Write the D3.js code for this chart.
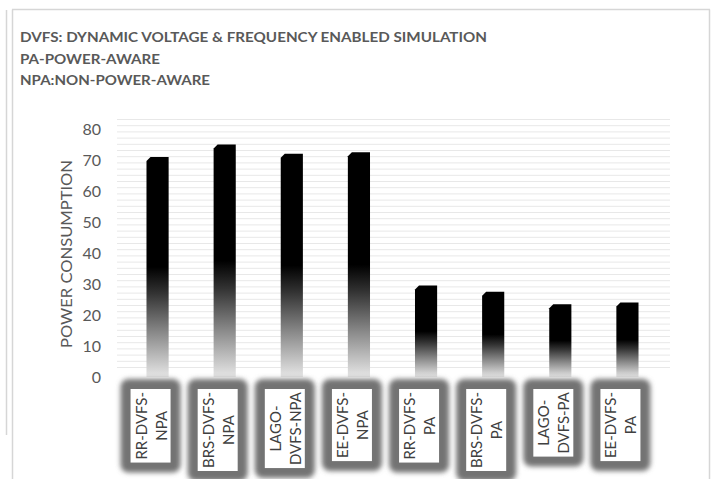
<!DOCTYPE html>
<html>
<head>
<meta charset="utf-8">
<script src="https://cdn.jsdelivr.net/npm/d3@7"></script>
<style>
  html, body { margin: 0; padding: 0; background: #fff; }
  svg { display: block; }
  text { font-family: Lato, "Open Sans", sans-serif; }
</style>
</head>
<body>
<svg id="chart" width="714" height="479"></svg>
<script>
// Power consumption per scheduling policy
const categories = [
  "RR-DVFS-NPA", "BRS-DVFS-NPA", "LAGO-DVFS-NPA", "EE-DVFS-NPA",
  "RR-DVFS-PA", "BRS-DVFS-PA", "LAGO-DVFS-PA", "EE-DVFS-PA"
];
const powerValues = [71, 75, 72, 72.5, 29.5, 27.5, 23.5, 24];
const yTicks = [0, 10, 20, 30, 40, 50, 60, 70, 80];
const titleLines = [
  "DVFS: DYNAMIC VOLTAGE & FREQUENCY ENABLED SIMULATION",
  "PA-POWER-AWARE",
  "NPA:NON-POWER-AWARE"
];
const yAxisTitle = "POWER CONSUMPTION";

const svg = d3.select("#chart");
const W = 714, H = 479;

// frame lines
const frame = svg.append("g").attr("stroke", "#d6d6d6").attr("stroke-width", 1.5).attr("fill", "none");
frame.append("line").attr("x1", 12).attr("y1", 9.5).attr("x2", 710).attr("y2", 9.5);
frame.append("line").attr("x1", 709.5).attr("y1", 9.5).attr("x2", 709.5).attr("y2", H);
frame.append("line").attr("x1", 12.5).attr("y1", 9.5).attr("x2", 12.5).attr("y2", H);
frame.append("line").attr("x1", 6.5).attr("y1", 10).attr("x2", 6.5).attr("y2", 435);

// title block
const titleWidths = [467, 140, 190];
svg.append("g").selectAll("text").data(titleLines).join("text")
  .attr("x", 20)
  .attr("y", (d, i) => 42 + i * 21.5)
  .attr("fill", "#595959")
  .attr("font-size", 14)
  .attr("font-weight", "bold")
  .attr("textLength", (d, i) => titleWidths[i])
  .attr("lengthAdjust", "spacingAndGlyphs")
  .text(d => d);

// scales
const x = d3.scaleBand().domain(categories).range([124, 661])
  .paddingInner(0.67).paddingOuter(0.335);
const y = d3.scaleLinear().domain([0, 80]).range([377, 129]);

// back wall: fine horizontal stripes, shifted up for the depth effect
const depth = -10;
const stripeVals = d3.range(0, 81, 2);
svg.append("g").selectAll("line").data(stripeVals).join("line")
  .attr("x1", 117).attr("x2", 670)
  .attr("y1", d => y(d) + depth + 0.5).attr("y2", d => y(d) + depth + 0.5)
  .attr("stroke", "#e8e8e8").attr("stroke-width", 1);

// y axis
const yAxis = d3.axisLeft(y).tickValues(yTicks).tickSize(0).tickPadding(0);
const gy = svg.append("g").attr("transform", "translate(101,0)").call(yAxis);
gy.select(".domain").remove();
gy.selectAll("text")
  .attr("fill", "#595959")
  .attr("font-size", 16)
  .attr("font-family", "Lato, 'Open Sans', sans-serif");

svg.append("text")
  .attr("transform", `translate(72,${(160 + 348) / 2}) rotate(-90)`)
  .attr("text-anchor", "middle")
  .attr("fill", "#595959")
  .attr("font-size", 15)
  .attr("textLength", 188)
  .attr("lengthAdjust", "spacingAndGlyphs")
  .text(yAxisTitle);

// bar gradient: solid black at the top fading toward the floor
const defs = svg.append("defs");
const grad = defs.append("linearGradient").attr("id", "barFade")
  .attr("x1", 0).attr("y1", 0).attr("x2", 0).attr("y2", 1);
grad.append("stop").attr("offset", 0).attr("stop-color", "#000");
grad.append("stop").attr("offset", 0.5).attr("stop-color", "#000");
grad.append("stop").attr("offset", 0.62).attr("stop-color", "#333");
grad.append("stop").attr("offset", 0.8).attr("stop-color", "#8a8a8a");
grad.append("stop").attr("offset", 1).attr("stop-color", "#e6e6e6");

const glow = defs.append("filter").attr("id", "glow")
  .attr("x", "-40%").attr("y", "-40%").attr("width", "180%").attr("height", "180%");
glow.append("feGaussianBlur").attr("stdDeviation", 2.8);

// bars with a bevelled top-left corner
const bev = 4;
svg.append("g").selectAll("path").data(categories).join("path")
  .attr("d", (c, i) => {
    const x0 = x(c), w = x.bandwidth(), yt = y(powerValues[i]), yb = y(0);
    return `M${x0},${yt + bev}L${x0 + bev},${yt}L${x0 + w},${yt}L${x0 + w},${yb}L${x0},${yb}Z`;
  })
  .attr("fill", "url(#barFade)");

// category label boxes
function wrapLabel(s, maxChars) {
  const tokens = s.match(/[^-]+-?/g);
  const lines = [];
  let cur = "";
  tokens.forEach(t => {
    if (cur && (cur + t).length > maxChars) { lines.push(cur); cur = t; }
    else cur += t;
  });
  if (cur) lines.push(cur);
  return lines;
}

const boxTop = 389, boxW = 40, pad = 10;
const labels = svg.append("g").selectAll("g").data(categories).join("g")
  .attr("transform", c => `translate(${x(c) + x.bandwidth() / 2 - 7},${boxTop})`);

labels.each(function (c) {
  const g = d3.select(this);
  const lines = wrapLabel(c, 9);
  const outer = g.append("rect");
  const inner = g.append("rect");
  const t = g.append("text")
    .attr("text-anchor", "middle")
    .attr("fill", "#404040")
    .attr("font-size", 15);
  const lh = 20;
  lines.forEach((ln, k) => {
    t.append("tspan")
      .attr("x", 0)
      .attr("y", (k - (lines.length - 1) / 2) * lh)
      .attr("dominant-baseline", "central")
      .text(ln);
  });
  let len = 0;
  t.selectAll("tspan").each(function () { len = Math.max(len, this.getComputedTextLength()); });
  const h = len + 6;
  t.attr("transform", `translate(0,${h / 2}) rotate(-90)`);
  inner.attr("x", -boxW / 2).attr("y", 0).attr("width", boxW).attr("height", h).attr("fill", "#fff");
  outer.attr("x", -boxW / 2 - pad).attr("y", -pad).attr("width", boxW + 2 * pad).attr("height", h + 2 * pad)
    .attr("rx", 8).attr("fill", "#737373").attr("filter", "url(#glow)");
});
</script>
</body>
</html>
